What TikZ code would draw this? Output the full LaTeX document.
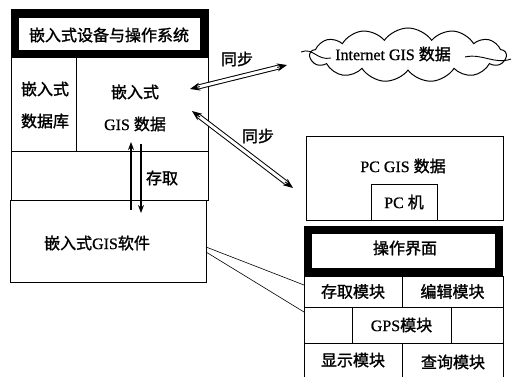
\documentclass[tikz,border=0pt]{standalone}
\usepackage{fontspec}
\setmainfont[FakeBold=0.8]{Liberation Serif}
\newfontfamily\cjk[FakeBold=1.5]{Noto Sans CJK SC}
\usetikzlibrary{shapes.symbols,arrows.meta,calc}
\tikzset{
  cell/.style={draw, line width=1pt, inner sep=0pt, outer sep=0pt},
  frame/.style={draw, line width=8pt, inner sep=0pt, outer sep=0pt},
  txt/.style={inner sep=0pt, align=center},
  dblline/.style={double, line width=1pt, double distance=3pt, shorten <=7pt, shorten >=7pt},
  tip/.style={line width=1pt, -{Stealth[length=10pt,width=8pt]}},
  acc/.style={line width=1.4pt, -{Stealth[length=8pt,width=6pt]}},
  thin/.style={line width=0.6pt}
}
\begin{document}
\begin{tikzpicture}[x=1pt,y=-1pt,font=\fontsize{16}{19}\selectfont]
\useasboundingbox (0,0) rectangle (514,377);
\fill[white] (0,0) rectangle (514,377);

% left column
\node[cell, minimum width=197pt, minimum height=190pt] (emb) at (109.5,105) {};
\node[frame, minimum width=189pt, minimum height=40pt] (os) at (109.5,34) {};
\node[txt] (ostxt) at (109,35) {\cjk 嵌入式设备与操作系统};
\node[cell, minimum width=65pt, minimum height=94pt] (db) at (43.5,105) {};
\node[txt] (dbtxt) at (45,105) {\cjk 嵌入式\\[13pt]\cjk 数据库};
\node[cell, minimum width=132pt, minimum height=94pt] (gis) at (142,105) {};
\node[txt] (gistxt) at (135,108) {\cjk 嵌入式\\[13pt]GIS {\cjk 数据}};
\node[cell, minimum width=197pt, minimum height=48pt] (mid) at (109.5,176) {};
\node[cell, minimum width=196pt, minimum height=82pt] (soft) at (108,241) {};
\node[txt] (softtxt) at (97,243) {{\cjk 嵌入式}GIS{\cjk 软件}};

% access arrows
\coordinate (up0) at (131,210);
\coordinate (up1) at (131,142);
\coordinate (dn0) at (141,144);
\coordinate (dn1) at (141,213);
\draw[acc] (up0) -- (up1);
\draw[acc] (dn0) -- (dn1);
\node[txt] (cq) at (162,178) {\cjk 存取};

% cloud
\node[cloud, draw, line width=1pt, cloud puffs=13, cloud puff arc=110, aspect=4.2,
  minimum width=196pt, minimum height=54pt, inner sep=0pt] (net) at (408,55) {};
\node[txt] (nettxt) at (393,54) {Internet GIS {\cjk 数据}};
\draw[line width=0.9pt] ($(net.west)+(-8,-3)$) .. controls ($(net.west)+(4,-8)$) and ($(net.west)+(8,6)$) .. ($(net.west)+(22,3)$);
\draw[line width=0.9pt] ($(net.east)+(-42,2)$) .. controls ($(net.east)+(-25,-2)$) and ($(net.east)+(-12,10)$) .. ($(net.east)+(4,4)$);

% sync arrows
\coordinate (s1a) at (190,89);
\coordinate (s1b) at (287,65);
\coordinate (s2a) at (192,111);
\coordinate (s2b) at (293,188);
\draw[dblline] (s1a) -- (s1b);
\draw[tip] ($(s1a)!10pt!(s1b)$) -- (s1a);
\draw[tip] ($(s1b)!10pt!(s1a)$) -- (s1b);
\draw[dblline] (s2a) -- (s2b);
\draw[tip] ($(s2a)!10pt!(s2b)$) -- (s2a);
\draw[tip] ($(s2b)!10pt!(s2a)$) -- (s2b);
\node[txt] (tb1) at (237,59) {\cjk 同步};
\node[txt] (tb2) at (258,136) {\cjk 同步};

% PC side
\node[cell, minimum width=197pt, minimum height=83pt] (pcgis) at (404.5,178.5) {};
\node[txt] (pcgistxt) at (403,166) {PC GIS {\cjk 数据}};
\node[cell, minimum width=66pt, minimum height=36pt] (pc) at (404,202) {PC {\cjk 机}};

% module stack
\node[frame, minimum width=191pt, minimum height=42pt] (ui) at (403.5,251) {};
\node[txt] (uitxt) at (405,248) {\cjk 操作界面};
\node[cell, minimum width=98pt, minimum height=31pt] (access) at (353,291.5) {\cjk 存取模块};
\node[cell, minimum width=101pt, minimum height=31pt] (edit) at (452.5,291.5) {\cjk 编辑模块};
\node[cell, minimum width=48pt, minimum height=36pt] (c1) at (328,325) {};
\node[cell, minimum width=99pt, minimum height=36pt] (gps) at (401.5,325) {GPS{\cjk 模块}};
\node[cell, minimum width=52pt, minimum height=36pt] (c3) at (477,325) {};
\node[cell, minimum width=98pt, minimum height=42pt] (disp) at (353,364) {};
\node[txt] (disptxt) at (353,360) {\cjk 显示模块};
\node[cell, minimum width=101pt, minimum height=42pt] (query) at (452.5,364) {};
\node[txt] (querytxt) at (453,362) {\cjk 查询模块};

% connector lines
\draw[thin] ([yshift=-47pt]soft.north east) -- ([yshift=-9pt]access.north west);
\draw[thin] ([yshift=-52pt]soft.north east) -- ([yshift=-5pt]c1.north west);
\end{tikzpicture}
\end{document}
